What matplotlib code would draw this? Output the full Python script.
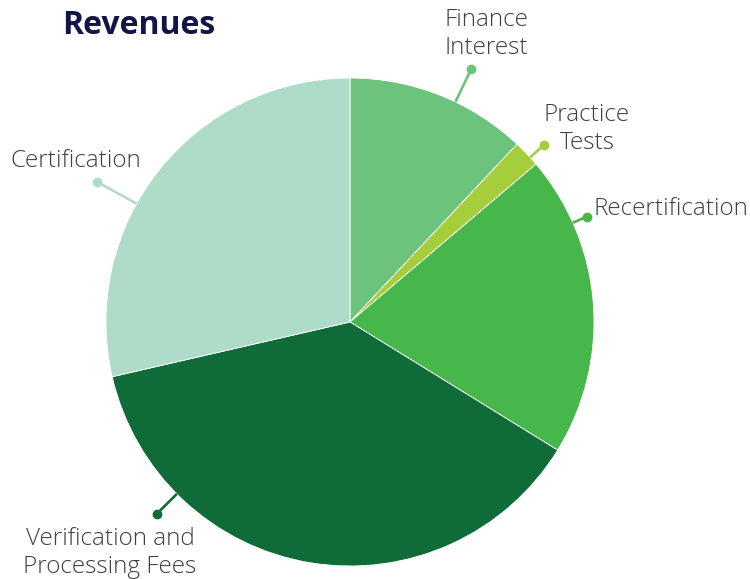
import numpy as np
import matplotlib
matplotlib.use("Agg")
import matplotlib.pyplot as plt
from matplotlib import font_manager

categories = ["Finance\nInterest", "Practice\nTests", "Recertification",
              "Verification and\nProcessing Fees", "Certification"]
values = [12.0, 1.8, 20.0, 37.6, 28.6]
colors = ["#6cc47c", "#a6cd3a", "#47b74b", "#0f6b38", "#afdcc9"]

W, H = 750, 579
fig = plt.figure(figsize=(W / 100, H / 100), dpi=100)
ax = fig.add_axes([0, 0, 1, 1])

cx, cy, R = 350, H - 322, 244
ax.pie(values, colors=colors, startangle=90, counterclock=False,
       center=(cx, cy), radius=R, frame=True,
       wedgeprops=dict(edgecolor="white", linewidth=0.6))
ax.set_xlim(0, W)
ax.set_ylim(0, H)
ax.set_aspect("equal")
ax.axis("off")

names = [f.name for f in font_manager.fontManager.ttflist]
fam = "Open Sans" if "Open Sans" in names else "DejaVu Sans"

# label layout: (angle clockwise from top, dot radius, text x, text y, ha)
layout = [
    (25.6, 280, 486, H - 34, "center"),
    (47.6, 263, 587, H - 129, "center"),
    (66.0, 259, 593, H - 209, "left"),
    (225.2, 272, 110, H - 553, "center"),
    (299.0, 289, 141, H - 161, "right"),
]
for cat, col, (ang, rd, tx, ty, ha) in zip(categories, colors, layout):
    a = np.deg2rad(ang)
    x0, y0 = cx + R * np.sin(a), cy + R * np.cos(a)
    x1, y1 = cx + rd * np.sin(a), cy + rd * np.cos(a)
    ax.plot([x0, x1], [y0, y1], color=col, lw=1.9, solid_capstyle="butt", zorder=3)
    ax.plot([x1], [y1], "o", color=col, ms=6, zorder=4)
    ax.text(tx, ty, cat, ha=ha, va="center", fontsize=17.5, color="#404040",
            family=fam, weight="light", linespacing=1.17, multialignment="center")

ax.text(62, H - 25, "Revenues", ha="left", va="center", fontsize=23,
        color="#141446", family=fam, weight="bold")

fig.savefig("out.png", dpi=100)
